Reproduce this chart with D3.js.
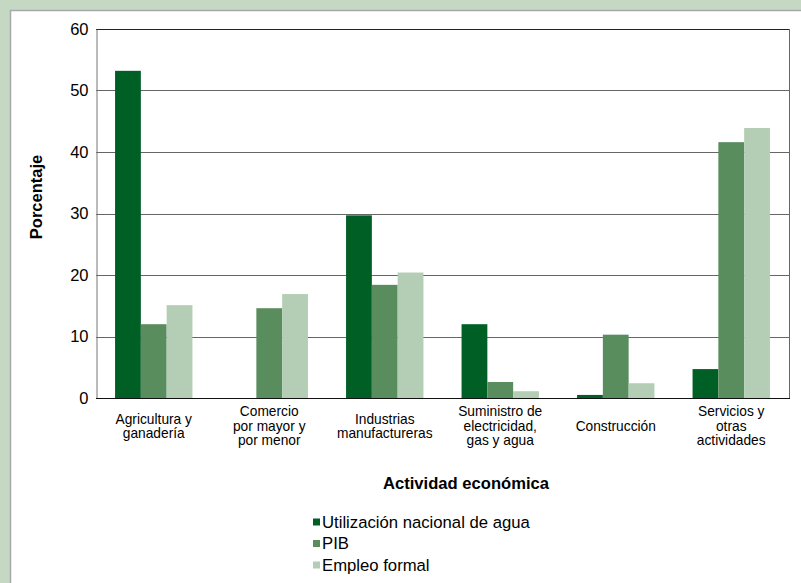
<!DOCTYPE html>
<html><head><meta charset="utf-8">
<script src="https://cdn.jsdelivr.net/npm/d3@7"></script>
<style>body{margin:0;background:#c5d8c4;}svg{display:block;font-family:"Liberation Sans",Arial,sans-serif;}</style>
</head><body>
<svg id="c" width="801" height="583"></svg>
<script>
const categories = [["Agricultura y","ganadería"],["Comercio","por mayor y","por menor"],["Industrias","manufactureras"],["Suministro de","electricidad,","gas y agua"],["Construcción"],["Servicios y","otras","actividades"]];
const seriesNames = ["Utilización nacional de agua","PIB","Empleo formal"];
const agua = [53.2, 0, 29.7, 12.0, 0.5, 4.7];
const pib = [12.0, 14.6, 18.4, 2.6, 10.3, 41.6];
const empleo = [15.1, 16.9, 20.4, 1.1, 2.4, 43.9];
const yTicks = [0,10,20,30,40,50,60];
const colors = ["#005f25","#5a8d5e","#b3ceb4"];

const svg = d3.select("#c");
svg.append("rect").attr("x",10.5).attr("y",10.5).attr("width",800).attr("height",580).attr("fill","#fff").attr("stroke","#a8a8a8").attr("stroke-width",1.5);

const m = {l:96, r:789, t:29, b:398};
const x0 = d3.scaleBand().domain(d3.range(categories.length)).range([m.l,m.r]).paddingInner(0.33).paddingOuter(0.165);
const x1 = d3.scaleBand().domain(d3.range(3)).range([0,x0.bandwidth()]);
const y = d3.scaleLinear().domain([0,60]).range([m.b,m.t]);

// grid
svg.append("g").selectAll("line").data(yTicks.filter(d=>d>0)).join("line")
  .attr("x1",m.l).attr("x2",m.r).attr("y1",d=>Math.round(y(d))+0.5).attr("y2",d=>Math.round(y(d))+0.5)
  .attr("stroke",d=>d===60?"#222":"#666").attr("stroke-width",1);
// right border
svg.append("line").attr("x1",m.r+0.5).attr("x2",m.r+0.5).attr("y1",m.t).attr("y2",m.b).attr("stroke","#666");

const data = [agua,pib,empleo];
const g = svg.append("g");
data.forEach((vals,si)=>{
  g.selectAll(null).data(vals).join("rect")
   .attr("x",(d,i)=>x0(i)+x1(si)).attr("width",x1.bandwidth())
   .attr("y",d=>y(d)).attr("height",d=>y(0)-y(d))
   .attr("fill",colors[si]);
});

// axes
const ya = d3.axisLeft(y).tickValues(yTicks).tickSize(0).tickPadding(8);
const yg = svg.append("g").attr("transform",`translate(${m.l+0.5},0)`).call(ya);
yg.select(".domain").attr("stroke","#777");
yg.selectAll("text").attr("font-size",16.5).attr("fill","#000").style("font-family","Liberation Sans, Arial, sans-serif");
svg.append("line").attr("x1",m.l).attr("x2",m.r+1).attr("y1",m.b+0.5).attr("y2",m.b+0.5).attr("stroke","#111");

// category labels
categories.forEach((lines,i)=>{
  const cx = x0(i)+x0.bandwidth()/2;
  const lh = 14.5;
  const start = 426 - (lines.length-1)*lh/2;
  const t = svg.append("text").attr("text-anchor","middle").attr("font-size",13.75).attr("fill","#000");
  lines.forEach((ln,k)=>{
    t.append("tspan").attr("x",cx).attr("y",start+k*lh).attr("dy","0.35em").text(ln);
  });
});

// axis titles
svg.append("text").attr("transform","translate(36,197) rotate(-90)").attr("text-anchor","middle").attr("dy","0.35em")
  .attr("font-size",16.5).attr("font-weight","bold").text("Porcentaje");
svg.append("text").attr("x",466).attr("y",483).attr("dy","0.35em").attr("text-anchor","middle")
  .attr("font-size",16.6).attr("font-weight","bold").text("Actividad económica");

// legend
const lg = svg.append("g");
seriesNames.forEach((n,i)=>{
  const cy = 522 + i*21.5;
  lg.append("rect").attr("x",313).attr("y",cy-3.5).attr("width",7).attr("height",7).attr("fill",colors[i]);
  lg.append("text").attr("x",322).attr("y",cy).attr("dy","0.35em").attr("font-size",16.7).text(n);
});
</script>
</body></html>
